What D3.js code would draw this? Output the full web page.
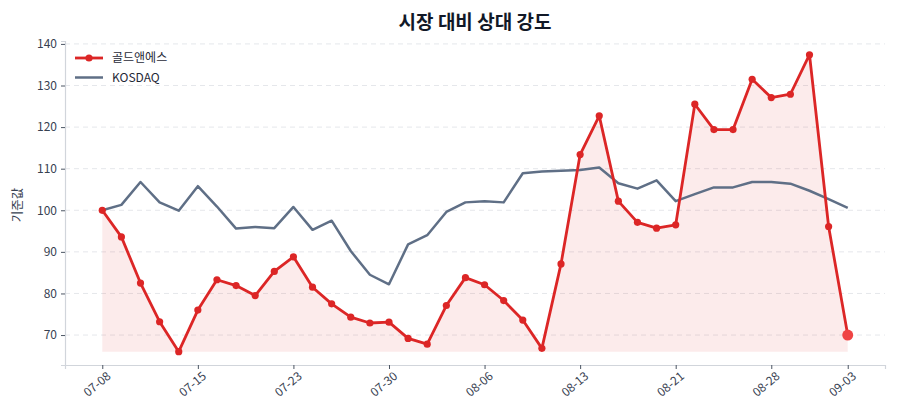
<!DOCTYPE html>
<html>
<head>
<meta charset="utf-8">
<script src="https://cdn.jsdelivr.net/npm/d3@7"></script>
<style>
  body { margin: 0; background: #fff; }
  text { font-family: "Noto Sans CJK KR", "Noto Sans", sans-serif; }
</style>
</head>
<body>
<div id="chart"></div>
<script>
// Data
var dates = ["07-08","07-09","07-10","07-11","07-14","07-15","07-16","07-17","07-18","07-21",
  "07-23","07-24","07-25","07-28","07-29","07-30","07-31","08-01","08-04","08-05",
  "08-06","08-07","08-08","08-11","08-12","08-13","08-14","08-18","08-19","08-20",
  "08-21","08-22","08-25","08-26","08-27","08-28","08-29","09-01","09-02","09-03"];

var stockValues = [100, 93.6, 82.5, 73.2, 66.0, 76.0, 83.3, 81.9, 79.5, 85.3,
  88.8, 81.5, 77.5, 74.3, 72.9, 73.1, 69.2, 67.8, 77.1, 83.8,
  82.1, 78.3, 73.6, 66.8, 87.1, 113.4, 122.7, 102.2, 97.1, 95.7,
  96.5, 125.5, 119.4, 119.4, 131.5, 127.1, 127.9, 137.4, 96.1, 70.0];

var kosdaqValues = [100, 101.3, 106.8, 101.9, 99.9, 105.8, 100.9, 95.6, 96.0, 95.7,
  100.8, 95.3, 97.5, 90.2, 84.5, 82.2, 91.8, 94.0, 99.6, 101.9,
  102.2, 101.9, 108.9, 109.3, 109.5, 109.7, 110.3, 106.5, 105.2, 107.2,
  102.2, 103.9, 105.5, 105.5, 106.8, 106.8, 106.4, 104.7, 102.7, 100.6];

var yTicks = [70, 80, 90, 100, 110, 120, 130, 140];
var xTickIdx = [0, 5, 10, 15, 20, 25, 30, 35, 39];

var stockName = "골드앤에스";
var indexName = "KOSDAQ";

var svgWidth = 900;
var svgHeight = 420;
var margin = { top: 41, right: 15, bottom: 55, left: 65 };
var width = svgWidth - margin.left - margin.right;
var height = svgHeight - margin.top - margin.bottom;

var red = "#dc2626";
var slate = "#5f6f86";

var svg = d3.select("#chart")
  .append("svg")
  .attr("width", svgWidth)
  .attr("height", svgHeight);

var chartGroup = svg.append("g")
  .attr("transform", `translate(${margin.left}, ${margin.top})`);

// Scales (index based x, matplotlib-like 5% padding)
var n = dates.length;
var pad = (n - 1) * 0.05;
var x = d3.scaleLinear().domain([-pad, n - 1 + pad]).range([0, width]);
var y = d3.scaleLinear().domain([62.8, 140.7]).range([height, 0]);

// Grid lines
chartGroup.append("g")
  .selectAll("line")
  .data(yTicks)
  .enter()
  .append("line")
  .attr("x1", 0)
  .attr("x2", width)
  .attr("y1", d => y(d))
  .attr("y2", d => y(d))
  .attr("stroke", "#e5e7eb")
  .attr("stroke-width", 1)
  .attr("stroke-dasharray", "5,4");

// Axes
var leftAxis = d3.axisLeft(y).tickValues(yTicks).tickSize(4).tickPadding(4);
var bottomAxis = d3.axisBottom(x).tickValues(xTickIdx).tickSize(4).tickPadding(4)
  .tickFormat(i => dates[i]);

var yAxisG = chartGroup.append("g").call(leftAxis);
var xAxisG = chartGroup.append("g")
  .attr("transform", `translate(0, ${height})`)
  .call(bottomAxis);

[yAxisG, xAxisG].forEach(g => {
  g.select(".domain").attr("stroke", "#d1d5db").attr("stroke-width", 1.2);
  g.selectAll(".tick line").attr("stroke", "#4b5563");
  g.selectAll(".tick text")
    .attr("fill", "#374151")
    .style("font-size", "12px");
});

xAxisG.selectAll(".tick text")
  .attr("text-anchor", "end")
  .attr("dx", "-0.1em")
  .attr("dy", "0.6em")
  .attr("transform", "rotate(-40)");

// Area under stock line down to its minimum
var baseVal = d3.min(stockValues);
var area = d3.area()
  .x((d, i) => x(i))
  .y0(y(baseVal))
  .y1(d => y(d));

chartGroup.append("path")
  .datum(stockValues)
  .attr("d", area)
  .attr("fill", red)
  .attr("fill-opacity", 0.09);

// KOSDAQ line
var line = d3.line().x((d, i) => x(i)).y(d => y(d));

chartGroup.append("path")
  .datum(kosdaqValues)
  .attr("d", line)
  .attr("fill", "none")
  .attr("stroke", slate)
  .attr("stroke-width", 2.5)
  .attr("stroke-linejoin", "round");

// Stock line + markers
chartGroup.append("path")
  .datum(stockValues)
  .attr("d", line)
  .attr("fill", "none")
  .attr("stroke", red)
  .attr("stroke-width", 2.8)
  .attr("stroke-linejoin", "round");

chartGroup.append("g")
  .selectAll("circle")
  .data(stockValues.slice(0, n - 1))
  .enter()
  .append("circle")
  .attr("cx", (d, i) => x(i))
  .attr("cy", d => y(d))
  .attr("r", 3.6)
  .attr("fill", red);

// last point highlighted
chartGroup.append("circle")
  .attr("cx", x(n - 1))
  .attr("cy", y(stockValues[n - 1]))
  .attr("r", 5.5)
  .attr("fill", "#ef4444");

// Legend
var legend = chartGroup.append("g").attr("transform", "translate(10, 17)");
legend.append("line")
  .attr("x1", 0).attr("x2", 28).attr("y1", 0).attr("y2", 0)
  .attr("stroke", red).attr("stroke-width", 2.8);
legend.append("circle").attr("cx", 14).attr("cy", 0).attr("r", 3.6).attr("fill", red);
legend.append("text").attr("x", 37).attr("y", 0).attr("dy", "0.35em")
  .attr("fill", "#1f2937").style("font-size", "12px").text(stockName);
legend.append("line")
  .attr("x1", 0).attr("x2", 28).attr("y1", 19.5).attr("y2", 19.5)
  .attr("stroke", slate).attr("stroke-width", 2.5);
legend.append("text").attr("x", 37).attr("y", 19.5).attr("dy", "0.35em")
  .attr("fill", "#1f2937").style("font-size", "12px").text(indexName);

// Title (centred over the plot area)
svg.append("text")
  .attr("x", margin.left + width / 2)
  .attr("y", 29)
  .attr("text-anchor", "middle")
  .attr("fill", "#111827")
  .style("font-size", "19px")
  .style("font-weight", "bold")
  .text("시장 대비 상대 강도");

// Y axis label
svg.append("text")
  .attr("transform", "translate(22, 205) rotate(-90)")
  .attr("text-anchor", "middle")
  .attr("fill", "#374151")
  .style("font-size", "12.5px")
  .text("기준값");
</script>
</body>
</html>
